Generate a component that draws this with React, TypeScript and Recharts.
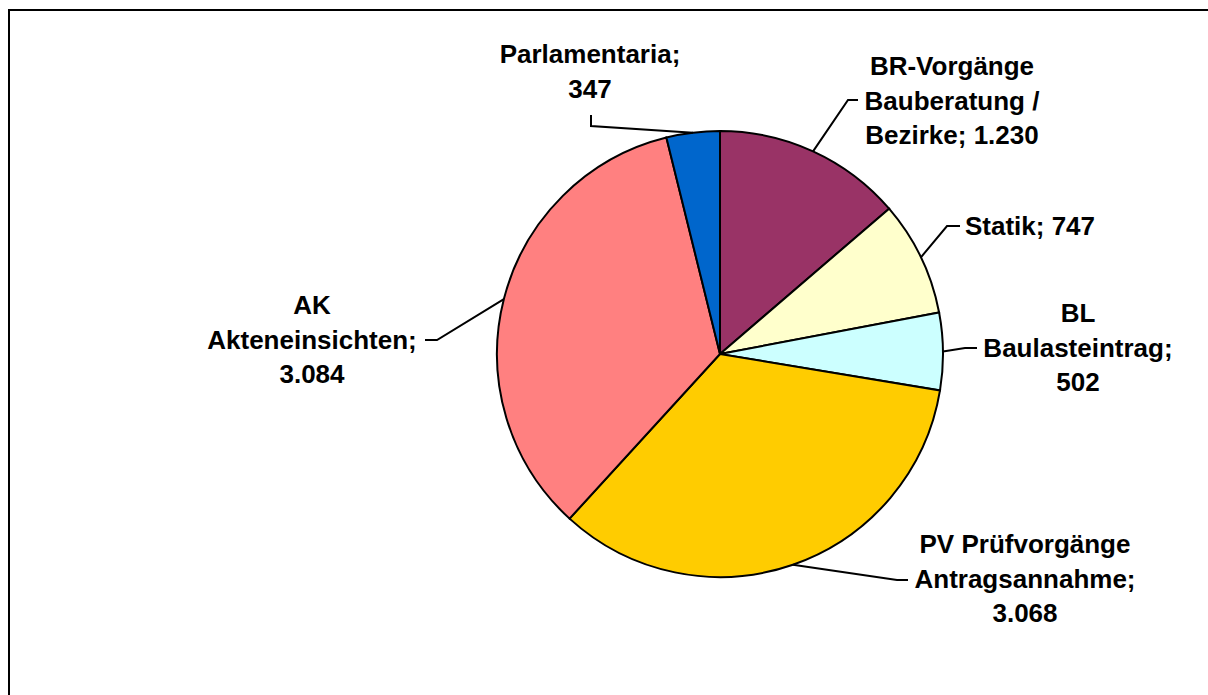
import { PieChart, Pie, Cell } from 'recharts';

const categories = [
  ['BR-Vorgänge', 'Bauberatung /', 'Bezirke;'],
  ['Statik;'],
  ['BL', 'Baulasteintrag;'],
  ['PV Prüfvorgänge', 'Antragsannahme;'],
  ['AK', 'Akteneinsichten;'],
  ['Parlamentaria;'],
];
const values = [1230, 747, 502, 3068, 3084, 347];
const colors = ['#993366', '#FFFFCC', '#CCFFFF', '#FFCC00', '#FF8080', '#0066CC'];

// label placement relative to pie centre (Excel puts these by hand)
// tx/ty: text centre x, first baseline; sx/sy: leader start at text; ex/ey: elbow
const labelLayout = [
  { tx: 232, ty: -279, sx: 138, sy: -254, ex: 128, ey: -254, inline: true },
  { tx: 310, ty: -119, sx: 240, sy: -128, ex: 227, ey: -128, inline: true },
  { tx: 358, ty: -32, sx: 257, sy: -6, ex: 245, ey: -6, inline: false },
  { tx: 305, ty: 199, sx: 188, sy: 226, ex: 177, ey: 226, inline: false },
  { tx: -408, ty: -40, sx: -295, sy: -14, ex: -283, ey: -14, inline: false },
  { tx: -130, ty: -291, sx: -129, sy: -239, ex: -129, ey: -228, inline: false },
];

const data = categories.map((lines, i) => ({ name: lines.join(' '), value: values[i] }));

const fmt = (v: number) => String(v).replace(/\B(?=(\d{3})+(?!\d))/g, '.');

const RAD = Math.PI / 180;
const LINE_H = 34.5;

function renderLabel(props: any) {
  const { cx, cy, midAngle, outerRadius, index } = props;
  const lay = labelLayout[index];
  const lines = [...categories[index]];
  if (lay.inline) lines[lines.length - 1] += ' ' + fmt(values[index]);
  else lines.push(fmt(values[index]));
  const ax = cx + outerRadius * Math.cos(-midAngle * RAD);
  const ay = cy + outerRadius * Math.sin(-midAngle * RAD);
  return (
    <g key={`lbl-${index}`}>
      <path
        d={`M${cx + lay.sx},${cy + lay.sy}L${cx + lay.ex},${cy + lay.ey}L${ax},${ay}`}
        stroke="#000"
        strokeWidth={2}
        fill="none"
      />
      <text
        x={cx + lay.tx}
        y={cy + lay.ty}
        textAnchor="middle"
        fontFamily="'Liberation Sans', Arial, sans-serif"
        fontWeight="bold"
        fontSize={26}
        fill="#000"
      >
        {lines.map((t, j) => (
          <tspan key={j} x={cx + lay.tx} y={cy + lay.ty + j * LINE_H}>
            {t}
          </tspan>
        ))}
      </text>
    </g>
  );
}

export default function App() {
  return (
    <div style={{ position: 'fixed', left: 0, top: 0, width: 1208, height: 695, overflow: 'hidden', background: '#fff' }}>
      <div
        style={{
          position: 'absolute',
          left: 8,
          top: 9,
          width: 1300,
          height: 800,
          border: '2px solid #000',
        }}
      />
      <div style={{ position: 'absolute', left: 0, top: 0 }}>
        <PieChart width={1208} height={695} margin={{ top: 0, right: 0, bottom: 0, left: 0 }}>
          <Pie
            data={data}
            dataKey="value"
            nameKey="name"
            cx={720}
            cy={354}
            outerRadius={223}
            startAngle={90}
            endAngle={-270}
            stroke="#000"
            strokeWidth={2}
            label={renderLabel}
            labelLine={false}
            isAnimationActive={false}
          >
            {data.map((d, i) => (
              <Cell key={d.name} fill={colors[i]} />
            ))}
          </Pie>
        </PieChart>
      </div>
    </div>
  );
}
